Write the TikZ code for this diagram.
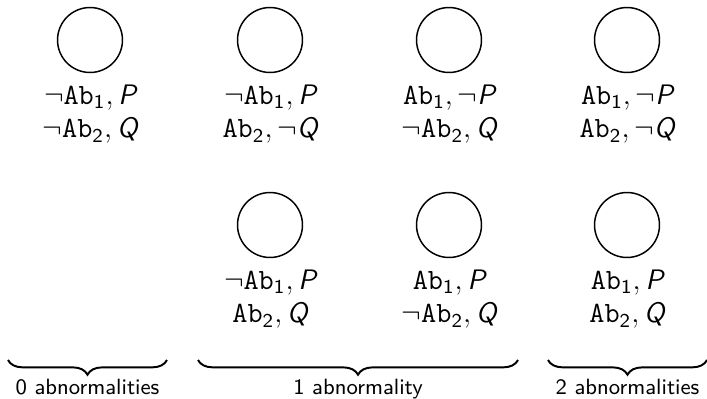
\documentclass[tikz,border=0pt]{standalone}
\usepackage{amsmath}
\usetikzlibrary{positioning,decorations.pathreplacing}

\newcommand{\Ab}[1]{\mathtt{Ab}_{\mathsf{#1}}}
\newcommand{\sP}{\text{\sffamily\itshape P}}
\newcommand{\sQ}{\text{\sffamily\itshape Q}}

\begin{document}
\begin{tikzpicture}[x=0.408pt, y=-0.408pt, node distance=4.5pt,
    world/.style={draw, circle, semithick, minimum size=26.5pt, inner sep=0pt},
    facts/.style={align=center, inner sep=0pt, font=\fontsize{11.5}{13.6}\selectfont},
    brace/.style={decorate, decoration={brace, mirror, amplitude=6pt}, thick},
    count/.style={font=\small\sffamily, inner sep=0pt, below=7.6pt}]
  \useasboundingbox (0,0) rectangle (707,398);

  % top row
  \node[world] (w1) at (90,40) {};
  \node[facts, below=of w1] (f1) {$\neg\Ab{1}, \sP$\\ $\neg\Ab{2}, \sQ$};
  \node[world] (w2) at (270,40) {};
  \node[facts, below=of w2] (f2) {$\neg\Ab{1}, \sP$\\ $\Ab{2}, \neg\sQ$};
  \node[world] (w3) at (449,40) {};
  \node[facts, below=of w3] (f3) {$\Ab{1}, \neg\sP$\\ $\neg\Ab{2}, \sQ$};
  \node[world] (w4) at (627,40) {};
  \node[facts, below=of w4] (f4) {$\Ab{1}, \neg\sP$\\ $\Ab{2}, \neg\sQ$};

  % bottom row
  \node[world] (w5) at (270,225) {};
  \node[facts, below=of w5] (f5) {$\neg\Ab{1}, \sP$\\ $\Ab{2}, \sQ$};
  \node[world] (w6) at (449,225) {};
  \node[facts, below=of w6] (f6) {$\Ab{1}, \sP$\\ $\neg\Ab{2}, \sQ$};
  \node[world] (w7) at (627,225) {};
  \node[facts, below=of w7] (f7) {$\Ab{1}, \sP$\\ $\Ab{2}, \sQ$};

  % braces
  \coordinate (z0) at (8,360);   \coordinate (z1) at (167,360);
  \coordinate (o0) at (198,360); \coordinate (o1) at (518,360);
  \coordinate (t0) at (548,360); \coordinate (t1) at (707,360);
  \draw[brace] (z0) -- node[count] (zero) {0 abnormalities} (z1);
  \draw[brace] (o0) -- node[count] (one) {1 abnormality} (o1);
  \draw[brace] (t0) -- node[count] (two) {2 abnormalities} (t1);
\end{tikzpicture}
\end{document}
